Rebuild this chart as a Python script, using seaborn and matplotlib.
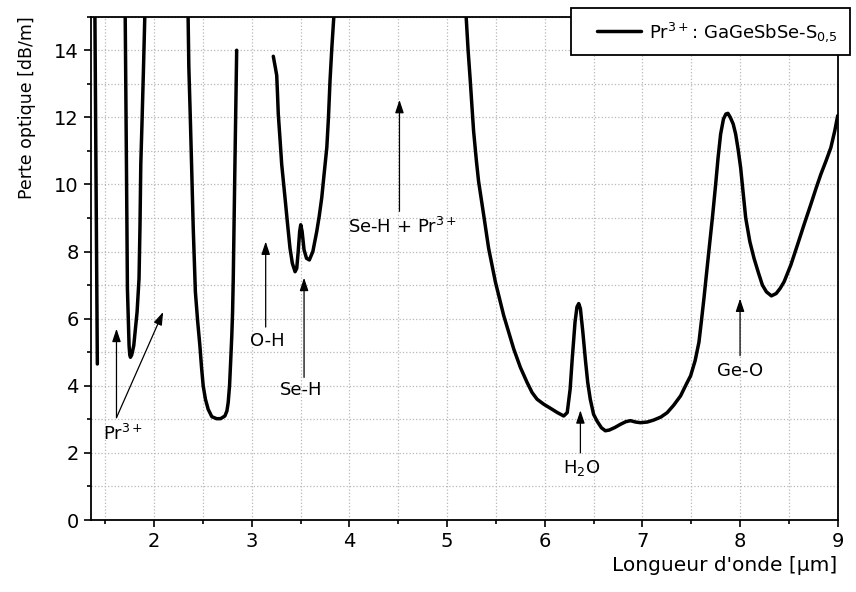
import pandas as pd
import matplotlib.pyplot as plt
import seaborn as sns
from matplotlib.ticker import MultipleLocator
from matplotlib.lines import Line2D
from matplotlib.legend_handler import HandlerLine2D

# Optical loss spectrum (pieces between the saturated bands)
wl_a = [1.392, 1.405, 1.418]
loss_a = [15.5, 10.0, 4.65]

wl_b = [1.702, 1.716, 1.726, 1.733, 1.743, 1.750, 1.757, 1.770, 1.780, 1.791,
        1.808, 1.825, 1.845, 1.855, 1.863, 1.875, 1.890, 1.904, 1.907]
loss_b = [15.5, 10.6, 6.9, 6.2, 5.2, 4.92, 4.85, 4.92, 5.05, 5.2,
          5.7, 6.2, 7.2, 8.8, 10.6, 11.8, 13.4, 15.0, 15.5]

wl_c = [2.345, 2.355, 2.370, 2.383, 2.400, 2.422, 2.446, 2.468, 2.485,
        2.502, 2.525, 2.553, 2.590, 2.639, 2.680, 2.724, 2.745, 2.758, 2.772,
        2.783, 2.795, 2.803, 2.810, 2.818, 2.827, 2.836, 2.845]
loss_c = [15.5, 13.5, 12.0, 10.6, 8.7, 6.8, 5.9, 5.2, 4.55,
          4.0, 3.6, 3.3, 3.08, 3.02, 3.02, 3.1, 3.25, 3.5, 4.0,
          4.7, 5.5, 6.2, 7.2, 8.8, 10.6, 12.3, 14.0]

wl_d = [3.220, 3.240, 3.255, 3.263, 3.271, 3.290, 3.306, 3.323, 3.340, 3.365,
        3.391, 3.415, 3.443, 3.460, 3.475, 3.490, 3.501, 3.515, 3.535, 3.560,
        3.589, 3.625, 3.665, 3.690, 3.716, 3.740, 3.768, 3.785, 3.801, 3.820,
        3.842, 3.850]
loss_d = [13.82, 13.5, 13.25, 12.7, 12.1, 11.3, 10.6, 10.1, 9.6, 8.85,
          8.1, 7.65, 7.4, 7.5, 8.0, 8.6, 8.8, 8.6, 8.05, 7.8,
          7.75, 8.0, 8.6, 9.05, 9.6, 10.3, 11.1, 12.0, 13.1, 14.1,
          15.1, 15.5]

wl_e = [5.185, 5.215, 5.237, 5.255, 5.271, 5.300, 5.322, 5.374, 5.425, 5.494,
        5.579, 5.682, 5.750, 5.819, 5.870, 5.921, 5.990, 6.058, 6.130, 6.194,
        6.230, 6.260, 6.280, 6.310, 6.330, 6.348, 6.365, 6.390, 6.417, 6.440,
        6.466, 6.500, 6.535, 6.580, 6.620, 6.660, 6.720, 6.774, 6.830, 6.877,
        6.930, 6.980, 7.050, 7.117, 7.190, 7.254, 7.320, 7.391, 7.450, 7.494,
        7.540, 7.579, 7.605, 7.630, 7.655, 7.682, 7.720, 7.750, 7.775, 7.801,
        7.830, 7.855, 7.876, 7.900, 7.930, 7.955, 7.980, 8.006, 8.030, 8.058,
        8.100, 8.143, 8.190, 8.229, 8.270, 8.321, 8.370, 8.410, 8.451, 8.520,
        8.588, 8.655, 8.724, 8.780, 8.827, 8.880, 8.930, 8.970, 9.000]
loss_e = [15.5, 14.0, 13.1, 12.3, 11.6, 10.7, 10.1, 9.1, 8.1, 7.1,
          6.1, 5.1, 4.55, 4.1, 3.8, 3.6, 3.45, 3.33, 3.2, 3.1,
          3.2, 3.9, 4.75, 5.9, 6.35, 6.45, 6.3, 5.6, 4.75, 4.1,
          3.6, 3.15, 2.95, 2.75, 2.66, 2.68, 2.76, 2.85, 2.93, 2.96,
          2.92, 2.9, 2.92, 2.98, 3.07, 3.2, 3.42, 3.7, 4.05, 4.3,
          4.75, 5.3, 5.95, 6.6, 7.3, 8.05, 9.1, 10.0, 10.8, 11.5,
          11.95, 12.1, 12.12, 12.0, 11.8, 11.5, 11.05, 10.5, 9.8, 9.0,
          8.3, 7.8, 7.35, 7.0, 6.8, 6.68, 6.75, 6.9, 7.1, 7.6,
          8.2, 8.8, 9.4, 9.9, 10.3, 10.7, 11.1, 11.6, 12.05]

# Band labels and arrows (tail -> head)
band_labels = ['O-H', 'Se-H', 'Se-H + Pr$^{\\mathregular{3+}}$', 'H$_{\\mathregular{2}}$O', 'Ge-O']
label_pos = [(3.16, 5.33), (3.51, 3.88), (4.54, 8.73), (6.38, 1.55), (8.0, 4.45)]
arrow_tails = [(3.142, 5.75), (3.535, 4.25), (4.512, 9.2), (6.365, 2.0), (8.0, 4.9)]
arrow_heads = [(3.142, 8.3), (3.535, 7.22), (4.512, 12.52), (6.365, 3.27), (8.0, 6.6)]
pr_heads = [(1.614, 5.7), (2.092, 6.2)]
pr_tail = (1.614, 3.05)

legend_label = 'Pr$^{\\mathregular{3+}}$: GaGeSbSe-S$_{\\mathregular{0{,}5}}$'

pieces = []
for i, (w, l) in enumerate([(wl_a, loss_a), (wl_b, loss_b), (wl_c, loss_c),
                            (wl_d, loss_d), (wl_e, loss_e)]):
    pieces.append(pd.DataFrame({'wl': w, 'loss': l, 'piece': i}))
df = pd.concat(pieces, ignore_index=True)

sns.set_style('ticks')
plt.rcParams['font.family'] = ['DejaVu Sans']
plt.rcParams['axes.linewidth'] = 1.3
plt.rcParams['text.color'] = 'black'
plt.rcParams['axes.labelcolor'] = 'black'
plt.rcParams['xtick.color'] = 'black'
plt.rcParams['ytick.color'] = 'black'

fig = plt.figure(figsize=(8.56, 5.92), dpi=100)
ax = fig.add_axes([90.7 / 856, 72 / 592, 747 / 856, 503.3 / 592])

sns.lineplot(data=df, x='wl', y='loss', units='piece', estimator=None, sort=False,
             color='black', lw=2.5, solid_joinstyle='round', solid_capstyle='round',
             legend=False, ax=ax, zorder=3)

ax.set_xlim(1.35, 9.0)
ax.set_ylim(0, 15)
ax.xaxis.set_major_locator(MultipleLocator(1))
ax.xaxis.set_minor_locator(MultipleLocator(0.5))
ax.yaxis.set_major_locator(MultipleLocator(2))
ax.yaxis.set_minor_locator(MultipleLocator(1))
ax.tick_params(which='major', direction='out', length=5, width=1.2, labelsize=14,
               colors='black')
ax.tick_params(which='minor', direction='out', length=3, width=1.2, colors='black')
ax.grid(which='both', ls=':', lw=0.9, color='#b8b8b8', zorder=0)
for s in ax.spines.values():
    s.set_visible(True)
    s.set_color('black')

ax.set_xlabel("Longueur d'onde [µm]", fontsize=14.5, loc='right', color='black')
ax.set_ylabel('Perte optique [dB/m]', fontsize=12.5, loc='top', labelpad=13, color='black')

arrow_kw = dict(arrowstyle='-|>,head_length=0.6,head_width=0.2', color='black', lw=0.9,
                mutation_scale=13, shrinkA=0, shrinkB=0)
for head in pr_heads:
    ax.annotate('', xy=head, xytext=pr_tail, arrowprops=arrow_kw)
ax.text(1.475, 2.55, 'Pr$^{\\mathregular{3+}}$', fontsize=13, ha='left', va='center')

for txt, pos, tail, head in zip(band_labels, label_pos, arrow_tails, arrow_heads):
    ax.annotate('', xy=head, xytext=tail, arrowprops=arrow_kw)
    ax.text(pos[0], pos[1], txt, fontsize=13, ha='center', va='center')

fs = 13
handle = Line2D([], [], color='black', lw=2.5)
leg = ax.legend([handle], [legend_label], loc='upper left', bbox_to_anchor=(0.643, 1.0167),
                borderaxespad=0, fontsize=fs, frameon=True, fancybox=False, framealpha=1,
                edgecolor='black', borderpad=0.65, handlelength=3.23, handletextpad=0.45,
                handler_map={Line2D: HandlerLine2D(xpad=0.79)})
leg.get_frame().set_linewidth(1.3)
leg.set_zorder(5)
for t in leg.get_texts():
    t.set_color('black')

plt.savefig('out.png', dpi=100)
